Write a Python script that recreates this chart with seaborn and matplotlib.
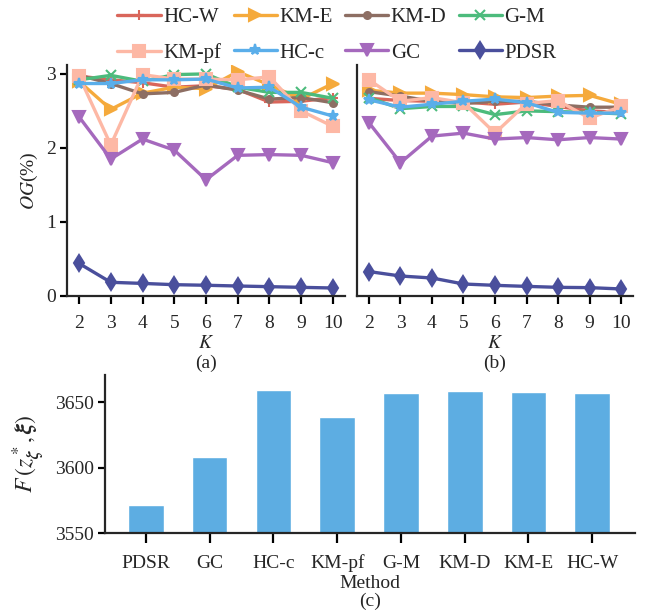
import numpy as np
import pandas as pd
import matplotlib
matplotlib.use("Agg")
import matplotlib.pyplot as plt
import seaborn as sns

# data
k_values = [2, 3, 4, 5, 6, 7, 8, 9, 10]
methods = ["HC-W", "KM-E", "KM-D", "G-M", "KM-pf", "HC-c", "GC", "PDSR"]

og_a_hcw = [2.97, 2.92, 2.88, 2.82, 2.84, 2.79, 2.62, 2.63, 2.68]
og_a_kme = [2.90, 2.52, 2.74, 2.82, 2.80, 3.03, 2.85, 2.66, 2.87]
og_a_kmd = [2.98, 2.87, 2.73, 2.75, 2.85, 2.78, 2.66, 2.68, 2.61]
og_a_gm = [2.92, 2.98, 2.90, 2.99, 3.00, 2.82, 2.75, 2.75, 2.67]
og_a_kmpf = [2.97, 2.04, 2.99, 2.93, 2.93, 2.92, 2.96, 2.50, 2.29]
og_a_hcc = [2.87, 2.87, 2.92, 2.92, 2.93, 2.81, 2.82, 2.55, 2.43]
og_a_gc = [2.42, 1.85, 2.12, 1.97, 1.57, 1.90, 1.91, 1.90, 1.80]
og_a_pdsr = [0.44, 0.185, 0.17, 0.153, 0.145, 0.135, 0.126, 0.117, 0.108]

og_b_hcw = [2.67, 2.64, 2.63, 2.62, 2.59, 2.62, 2.56, 2.50, 2.48]
og_b_kme = [2.78, 2.74, 2.74, 2.72, 2.69, 2.68, 2.70, 2.71, 2.59]
og_b_kmd = [2.76, 2.70, 2.63, 2.60, 2.63, 2.63, 2.58, 2.55, 2.55]
og_b_gm = [2.68, 2.53, 2.56, 2.56, 2.45, 2.50, 2.49, 2.48, 2.46]
og_b_kmpf = [2.92, 2.63, 2.68, 2.61, 2.20, 2.60, 2.64, 2.40, 2.56]
og_b_hcc = [2.65, 2.55, 2.59, 2.63, 2.66, 2.61, 2.48, 2.47, 2.47]
og_b_gc = [2.34, 1.80, 2.16, 2.20, 2.12, 2.14, 2.11, 2.14, 2.12]
og_b_pdsr = [0.33, 0.27, 0.243, 0.162, 0.144, 0.13, 0.117, 0.113, 0.095]

bar_methods = ["PDSR", "GC", "HC-c", "KM-pf", "G-M", "KM-D", "KM-E", "HC-W"]
bar_values = [3571.7, 3608.2, 3659.7, 3639.0, 3657.4, 3659.0, 3658.3, 3657.4]

colors = {"HC-W": "#d9665b", "KM-E": "#f5aa3c", "KM-D": "#8d6e63", "G-M": "#4cbb7c",
          "KM-pf": "#fdb8a5", "HC-c": "#5aaeea", "GC": "#a569bd", "PDSR": "#4a4f9c"}
markers = {"HC-W": "+", "KM-E": ">", "KM-D": ".", "G-M": "x",
           "KM-pf": "s", "HC-c": "*", "GC": "v", "PDSR": "d"}

series_a = dict(zip(methods, [og_a_hcw, og_a_kme, og_a_kmd, og_a_gm, og_a_kmpf, og_a_hcc, og_a_gc, og_a_pdsr]))
series_b = dict(zip(methods, [og_b_hcw, og_b_kme, og_b_kmd, og_b_gm, og_b_kmpf, og_b_hcc, og_b_gc, og_b_pdsr]))

sns.set_theme(style="ticks")
plt.rcParams["font.family"] = ["Liberation Serif", "DejaVu Serif"]
plt.rcParams["mathtext.fontset"] = "stix"
plt.rcParams["axes.linewidth"] = 1.6
plt.rcParams["xtick.major.width"] = 1.6
plt.rcParams["ytick.major.width"] = 1.6
plt.rcParams["xtick.major.size"] = 6
plt.rcParams["ytick.major.size"] = 5

FS = 14

fig = plt.figure(figsize=(6.57, 6.10), dpi=100)
ax_a = fig.add_axes([67/657, 1-296/610, 278/657, 231/610])
ax_b = fig.add_axes([357/657, 1-296/610, 276/657, 231/610])
ax_c = fig.add_axes([105/657, 1-533/610, 530/657, 158/610])

for ax, series in [(ax_a, series_a), (ax_b, series_b)]:
    for m in methods:
        ms = 8
        if m == "KM-D":
            ms = 10
        if m in ("HC-W", "G-M"):
            ms = 7
        sns.lineplot(x=k_values, y=series[m], ax=ax, color=colors[m], marker=markers[m],
                     markersize=ms, markeredgecolor=colors[m], markeredgewidth=1.5,
                     linewidth=2.4, label=m, legend=False)
    ax.set_xlim(1.62, 10.38)
    ax.set_ylim(0, 3.12)
    ax.set_xticks(k_values)
    ax.set_xticklabels([str(k) for k in k_values])
    ax.tick_params(axis="both", labelsize=FS, pad=3, color="black")
    ax.tick_params(axis="x", pad=7.5)
    ax.set_xlabel("$K$", fontsize=FS, labelpad=2)
    sns.despine(ax=ax)

ax_a.set_yticks([0, 1, 2, 3])
ax_a.set_ylabel("$OG$(%)", fontsize=FS, labelpad=4)
ax_b.set_yticks([0, 1, 2, 3])
ax_b.tick_params(axis="y", left=False, labelleft=False)

ax_a.text(0.5, -0.29, "(a)", transform=ax_a.transAxes, ha="center", va="center", fontsize=FS)
ax_b.text(0.5, -0.29, "(b)", transform=ax_b.transAxes, ha="center", va="center", fontsize=FS)

# legend: row-wise order for 4 columns
handles, labels = ax_a.get_legend_handles_labels()
hmap = dict(zip(labels, handles))
order = ["HC-W", "KM-pf", "KM-E", "HC-c", "KM-D", "GC", "G-M", "PDSR"]
fig.legend([hmap[o] for o in order], order, loc="upper center", ncol=4,
           bbox_to_anchor=(0.513, 1.018), frameon=False, fontsize=15,
           handlelength=2.07, handletextpad=0.12, columnspacing=0.6, labelspacing=0.75)

bar_df = pd.DataFrame({"Method": bar_methods, "F": bar_values})
sns.barplot(data=bar_df, x="Method", y="F", ax=ax_c, color="#5dade2", width=0.56, saturation=1)
ax_c.set_ylim(3550, 3671)
ax_c.set_xlim(-0.64, 7.67)
ax_c.set_yticks([3550, 3600, 3650])
ax_c.tick_params(axis="both", labelsize=FS, pad=3, color="black")
ax_c.tick_params(axis="x", length=7.5, pad=8)
ax_c.set_xlabel("Method", fontsize=FS, labelpad=2)
ax_c.set_ylabel(r"$F\,(z^*_{\boldsymbol{\zeta}},\boldsymbol{\xi})$", fontsize=17, labelpad=6)
ax_c.text(0.5, -0.43, "(c)", transform=ax_c.transAxes, ha="center", va="center", fontsize=FS)
sns.despine(ax=ax_c)

fig.savefig("out.png", dpi=100)
